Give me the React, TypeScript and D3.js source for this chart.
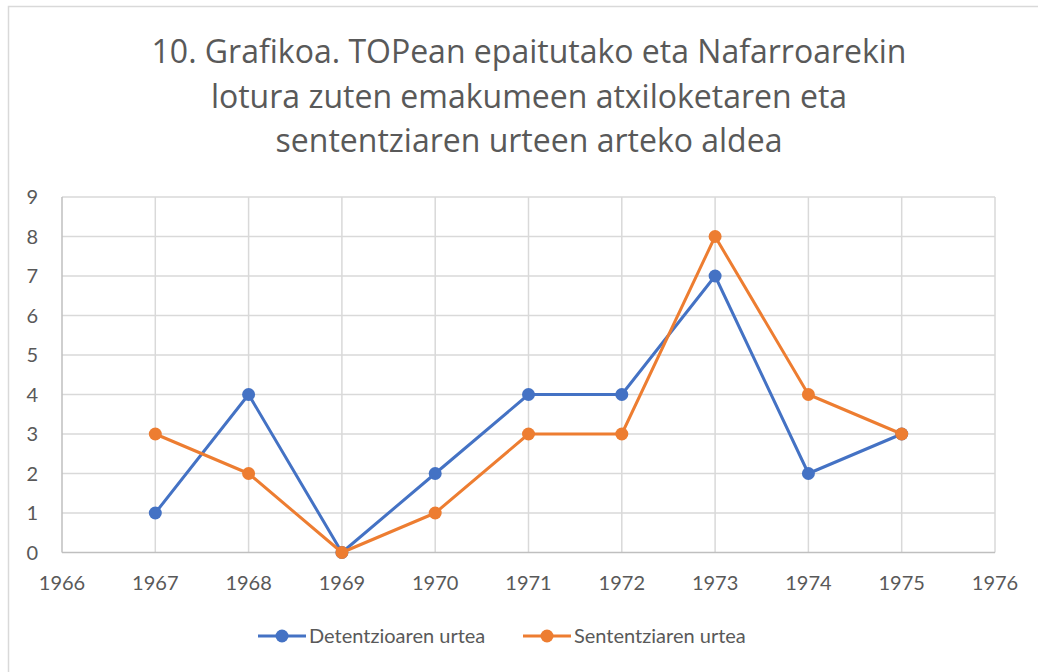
import React from 'react'
import * as d3 from 'd3'

const years = [1967, 1968, 1969, 1970, 1971, 1972, 1973, 1974, 1975]
const detentzioa = [1, 4, 0, 2, 4, 4, 7, 2, 3]
const sententzia = [3, 2, 0, 1, 3, 3, 8, 4, 3]
const xTicks = [1966, 1967, 1968, 1969, 1970, 1971, 1972, 1973, 1974, 1975, 1976]
const yTicks = [0, 1, 2, 3, 4, 5, 6, 7, 8, 9]
const titleLines = [
  '10. Grafikoa. TOPean epaitutako eta Nafarroarekin',
  'lotura zuten emakumeen atxiloketaren eta',
  'sententziaren urteen arteko aldea',
]
const series = [
  { name: 'Detentzioaren urtea', values: detentzioa, color: '#4472C4' },
  { name: 'Sententziaren urtea', values: sententzia, color: '#ED7D31' },
]

const W = 1038
const H = 672
const FONT = 'Lato, "Open Sans", sans-serif'
const TITLE_FONT = '"Open Sans", Lato, sans-serif'
const TEXT = '#595959'

export default function App() {
  const x = d3.scaleLinear().domain([1966, 1976]).range([62, 995])
  const y = d3.scaleLinear().domain([0, 9]).range([552.5, 197])

  const line = d3
    .line<number>()
    .x((_, i) => x(years[i]))
    .y((d) => y(d))

  const legendX = [258, 523]

  return (
    <svg
      width={W}
      height={H}
      style={{ position: 'absolute', left: 0, top: 0, background: '#fff' }}
      fontFamily={FONT}
    >
      <rect x={8.5} y={6.5} width={W + 10} height={H + 10} fill="#fff" stroke="#D9D9D9" strokeWidth={1.5} />

      {titleLines.map((t, i) => (
        <text
          key={i}
          x={529}
          y={63 + i * 44.5}
          textAnchor="middle"
          fontSize={32}
          fontFamily={TITLE_FONT}
          fill={TEXT}
        >
          {t}
        </text>
      ))}

      {/* grid */}
      {yTicks.slice(1).map((t) => (
        <line key={'gy' + t} x1={x(1966)} x2={x(1976)} y1={y(t)} y2={y(t)} stroke="#D9D9D9" strokeWidth={1.5} />
      ))}
      {xTicks.slice(1).map((t) => (
        <line key={'gx' + t} x1={x(t)} x2={x(t)} y1={y(0)} y2={y(9)} stroke="#D9D9D9" strokeWidth={1.5} />
      ))}
      {/* axes */}
      <line x1={x(1966)} x2={x(1966)} y1={y(0)} y2={y(9)} stroke="#BFBFBF" strokeWidth={1.5} />
      <line x1={x(1966)} x2={x(1976)} y1={y(0)} y2={y(0)} stroke="#BFBFBF" strokeWidth={1.5} />

      {yTicks.map((t) => (
        <text key={'ty' + t} x={38} y={y(t)} dy="0.35em" textAnchor="end" fontSize={20} fill={TEXT}>
          {t}
        </text>
      ))}
      {xTicks.map((t) => (
        <text key={'tx' + t} x={x(t)} y={590} textAnchor="middle" fontSize={20} fill={TEXT}>
          {t}
        </text>
      ))}

      {series.map((s) => (
        <g key={s.name}>
          <path d={line(s.values) || ''} fill="none" stroke={s.color} strokeWidth={3} strokeLinejoin="round" />
          {s.values.map((v, i) => (
            <circle key={i} cx={x(years[i])} cy={y(v)} r={6.5} fill={s.color} />
          ))}
        </g>
      ))}

      {series.map((s, i) => (
        <g key={'lg' + s.name} transform={`translate(${legendX[i]},636)`}>
          <line x1={0} x2={48} y1={0} y2={0} stroke={s.color} strokeWidth={3} />
          <circle cx={24} cy={0} r={6.5} fill={s.color} />
          <text x={51} y={0} dy="0.35em" fontSize={20} fill={TEXT}>
            {s.name}
          </text>
        </g>
      ))}
    </svg>
  )
}
